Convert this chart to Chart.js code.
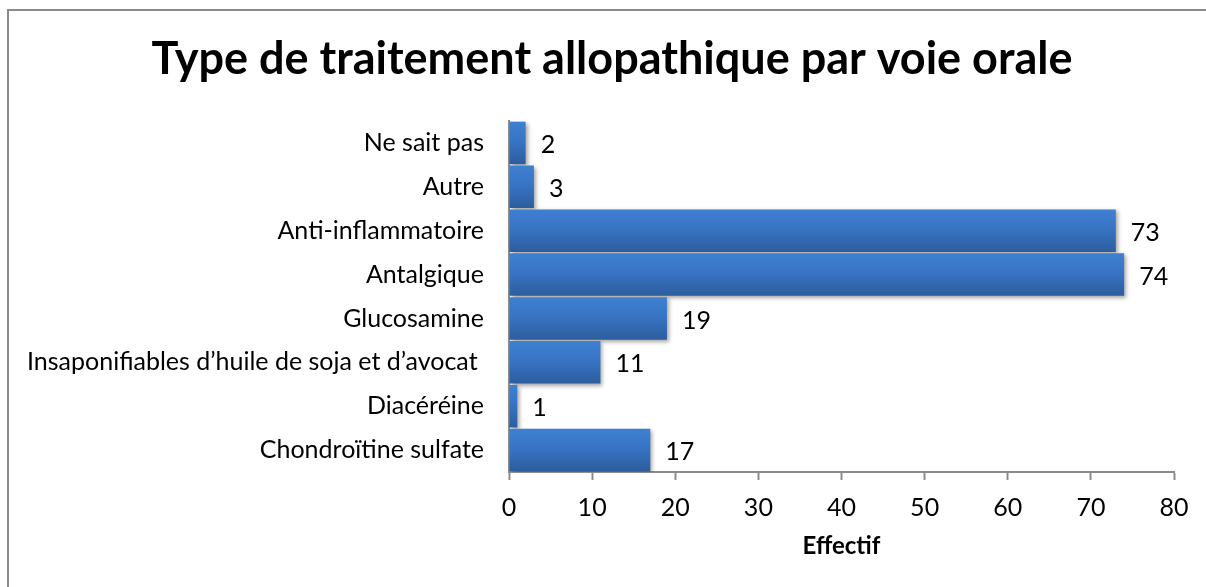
<!DOCTYPE html>
<html>
<head>
<meta charset="utf-8">
<script src="https://cdn.jsdelivr.net/npm/chart.js@4/dist/chart.umd.min.js"></script>
<style>
  body { margin: 0; background: #fff; }
  #wrap { position: relative; width: 1206px; height: 587px; overflow: hidden; }
  #cadre { position: absolute; left: 7px; top: 9px; width: 1300px; height: 700px;
           border-left: 2px solid #8c8c8c; border-top: 2px solid #8c8c8c; pointer-events: none; }
</style>
</head>
<body>
<div id="wrap">
  <canvas id="graphique"></canvas>
  <div id="cadre"></div>
</div>
<script>
// données du graphique
var categories = [
    'Ne sait pas',
    'Autre',
    'Anti-inflammatoire',
    'Antalgique',
    'Glucosamine',
    'Insaponifiables d’huile de soja et d’avocat ',
    'Diacéréine',
    'Chondroïtine sulfate'
];
var effectifs = [2, 3, 73, 74, 19, 11, 1, 17];
var titre = 'Type de traitement allopathique par voie orale';
var titreAxe = 'Effectif';
var xMin = 0, xMax = 80, xPas = 10;

var police = 'Lato, "Open Sans", sans-serif';

// dégradé bleu pour chaque barre
function couleurBarre(context) {
    var chart = context.chart;
    var y = chart.scales.y;
    if (!chart.chartArea || !y) return '#3872c2';
    var c = y.getPixelForValue(context.dataIndex);
    var h = 22;
    var g = chart.ctx.createLinearGradient(0, c - h, 0, c + h);
    g.addColorStop(0, '#3f80d2');
    g.addColorStop(0.45, '#3874c4');
    g.addColorStop(1, '#2c5c9c');
    return g;
}

// titre dessiné à la main (centré comme dans Excel)
var pluginTitre = {
    id: 'titre',
    afterDraw: function(chart) {
        var ctx = chart.ctx;
        ctx.save();
        ctx.font = 'bold 45px ' + police;
        ctx.fillStyle = '#000';
        ctx.textAlign = 'center';
        ctx.textBaseline = 'alphabetic';
        ctx.fillText(titre, 612, 74);
        ctx.restore();
    }
};

// ombre sous les barres
var pluginOmbre = {
    id: 'ombre',
    beforeDatasetsDraw: function(chart) {
        var ctx = chart.ctx;
        ctx.save();
        ctx.shadowColor = 'rgba(0,0,0,0.35)';
        ctx.shadowBlur = 4;
        ctx.shadowOffsetX = 2;
        ctx.shadowOffsetY = 2;
    },
    afterDatasetsDraw: function(chart) {
        chart.ctx.restore();
    }
};

// étiquettes de valeurs à droite des barres
var pluginValeurs = {
    id: 'valeurs',
    afterDatasetsDraw: function(chart) {
        var ctx = chart.ctx;
        var meta = chart.getDatasetMeta(0);
        ctx.save();
        ctx.font = '25px ' + police;
        ctx.fillStyle = '#000';
        ctx.textAlign = 'left';
        ctx.textBaseline = 'middle';
        meta.data.forEach(function(barre, i) {
            ctx.fillText(String(effectifs[i]), barre.x + 15, barre.y + 2);
        });
        ctx.restore();
    }
};

var chart = new Chart(document.getElementById('graphique'), {
    type: 'bar',
    data: {
        labels: categories,
        datasets: [{
            data: effectifs,
            backgroundColor: couleurBarre,
            borderWidth: 0,
            barPercentage: 0.97,
            categoryPercentage: 1
        }]
    },
    options: {
        indexAxis: 'y',
        responsive: true,
        maintainAspectRatio: false,
        animation: false,
        layout: {
            padding: { top: 121, left: 0, right: 32, bottom: 0 }
        },
        plugins: {
            legend: { display: false },
            tooltip: { enabled: false },
            title: { display: false }
        },
        scales: {
            x: {
                min: xMin,
                max: xMax,
                afterFit: function(scale) { scale.height = 115; },
                ticks: {
                    stepSize: xPas,
                    color: '#000',
                    padding: 13,
                    font: { family: police, size: 25 }
                },
                grid: {
                    drawOnChartArea: false,
                    drawTicks: true,
                    tickLength: 8,
                    tickWidth: 2,
                    color: '#8c8c8c'
                },
                border: { display: true, color: '#8c8c8c', width: 2 },
                title: {
                    display: true,
                    text: titreAxe,
                    color: '#000',
                    font: { family: police, size: 24, weight: 'bold' },
                    padding: { top: 0, bottom: 26 }
                }
            },
            y: {
                afterFit: function(scale) { scale.width = 509; },
                ticks: {
                    color: '#000',
                    padding: 25,
                    font: { family: police, size: 25 }
                },
                grid: { display: false, drawTicks: false },
                border: { display: true, color: '#8c8c8c', width: 2 }
            }
        }
    },
    plugins: [pluginOmbre, pluginValeurs, pluginTitre]
});
</script>
</body>
</html>
